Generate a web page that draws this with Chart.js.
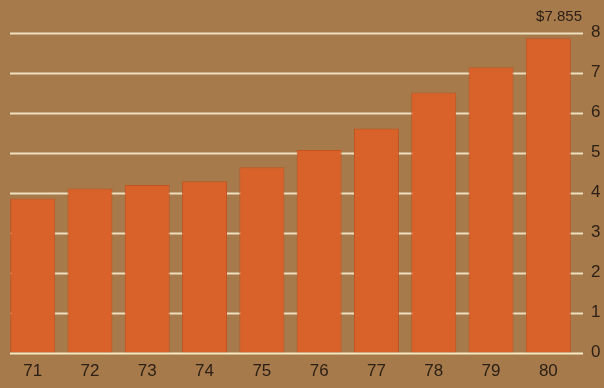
<!DOCTYPE html>
<html>
<head>
<meta charset="utf-8">
<style>
  html, body { margin: 0; padding: 0; background: #a77a4b; }
  #wrap { width: 604px; height: 388px; position: relative; }
</style>
<script src="https://cdn.jsdelivr.net/npm/chart.js@4/dist/chart.umd.min.js"></script>
</head>
<body>
<div id="wrap"><canvas id="c" width="604" height="388"></canvas></div>
<script>
// Annual values, in dollars, 1971-1980
const years = ['71', '72', '73', '74', '75', '76', '77', '78', '79', '80'];
const values = [3.85, 4.10, 4.19, 4.28, 4.63, 5.06, 5.60, 6.50, 7.13, 7.855];
const yTicks = [0, 1, 2, 3, 4, 5, 6, 7, 8];

const FONT = '"Liberation Sans", Arial, sans-serif';
const INK = '#2c2017';

// Cream rules across the plot, drawn behind the bars, plus the final-value caption
const rules = {
  id: 'rules',
  beforeDatasetsDraw(chart) {
    const { ctx, chartArea } = chart;
    const y = chart.scales.y;
    ctx.save();
    ctx.lineWidth = 2;
    yTicks.forEach(v => {
      const py = Math.round(y.getPixelForValue(v)) + 0.5;
      ctx.strokeStyle = v === 0 ? '#f6e9c4' : '#eedfc0';
      ctx.beginPath();
      ctx.moveTo(chartArea.left + 6, py);
      ctx.lineTo(chartArea.right + 6, py);
      ctx.stroke();
    });
    ctx.restore();
  },
  afterDraw(chart) {
    const { ctx, chartArea } = chart;
    const y = chart.scales.y;
    const last = values[values.length - 1];
    ctx.save();
    ctx.fillStyle = INK;
    ctx.font = '15px ' + FONT;
    ctx.textAlign = 'right';
    ctx.textBaseline = 'middle';
    ctx.fillText('$' + last.toFixed(3), chartArea.right + 5, y.getPixelForValue(8) - 16);
    ctx.restore();
  }
};

new Chart(document.getElementById('c'), {
  type: 'bar',
  data: {
    labels: years,
    datasets: [{
      data: values,
      backgroundColor: '#d9612a',
      borderColor: '#c2531f',
      borderWidth: 1,
      barPercentage: 0.785,
      categoryPercentage: 1.0
    }]
  },
  options: {
    responsive: false,
    animation: false,
    layout: { padding: { left: 4, right: 0, top: 32.5, bottom: 0 } },
    plugins: { legend: { display: false }, tooltip: { enabled: false } },
    scales: {
      x: {
        grid: { display: false, drawTicks: false },
        border: { display: false },
        ticks: { color: INK, font: { family: FONT, size: 17 }, padding: 9, maxRotation: 0 },
        afterFit(s) { s.height = 35.5; }
      },
      y: {
        position: 'right',
        min: 0,
        max: 8,
        afterBuildTicks(s) { s.ticks = yTicks.map(v => ({ value: v })); },
        grid: { display: false, drawTicks: false },
        border: { display: false },
        ticks: { color: INK, font: { family: FONT, size: 17 }, padding: 14 },
        afterFit(s) { s.width = 27; }
      }
    }
  },
  plugins: [rules]
});
</script>
</body>
</html>
